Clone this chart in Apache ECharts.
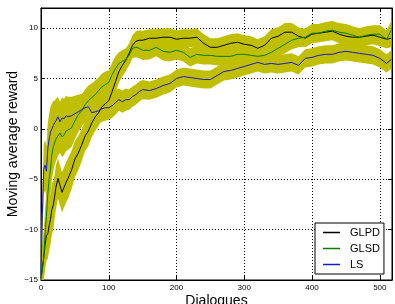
<!DOCTYPE html>
<html><head><meta charset="utf-8">
<script src="https://cdn.jsdelivr.net/npm/echarts@6/dist/echarts.min.js"></script>
<style>html,body{margin:0;padding:0;background:#fff}#c{width:395px;height:304px}</style>
</head><body><div id="c"></div>
<script>
const xs = [0,2,4,6,8,10,12,14,16,18,20,22,25,28,31,34,37,40,45,50,55,60,65,70,75,80,85,90,95,100,105,110,115,120,125,130,135,140,145,150,
 160,170,180,190,200,210,220,230,240,250,260,270,280,290,300,310,320,330,340,350,360,370,380,390,400,410,420,430,440,450,460,470,480,490,500,510,517];
const glpd = [-14.8,-13.8,-12.8,-11.5,-10.6,-10.4,-9.6,-9.0,-8.0,-7.6,-6.8,-5.8,-4.9,-5.6,-6.3,-5.8,-5.3,-4.9,-4.1,-3.0,-2.4,-1.6,-0.7,-0.2,0.6,1.2,1.6,2.2,2.5,2.8,3.7,4.7,5.7,6.3,6.8,7.5,8.3,8.7,8.8,8.8,
 9.0,9.0,9.1,9.1,8.9,9.0,9.0,9.1,8.5,8.1,8.1,8.3,8.5,8.6,8.4,8.3,8.0,8.3,9.0,9.2,9.6,9.6,9.2,9.0,9.4,9.5,9.6,9.7,9.4,9.2,9.1,9.1,9.2,9.3,9.1,8.9,9.0];
const glsd = [-15,-14,-12.8,-10.5,-8.7,-6.5,-5.0,-4.0,-2.6,-1.8,-1.4,-1.0,-0.7,-0.4,-0.8,-0.6,-0.2,-0.1,0.1,0.8,1.4,1.8,2.4,2.8,3.1,3.4,3.8,4.2,4.4,4.6,5.4,6.0,6.5,6.7,6.9,7.3,8.0,8.1,8.0,7.8,
 7.8,8.1,7.7,7.6,7.8,7.6,7.1,7.4,7.3,7.3,7.2,7.2,7.2,7.4,7.4,7.3,7.2,7.3,7.6,8.0,8.4,8.8,9.0,9.1,9.5,9.5,9.7,9.8,9.6,9.5,9.3,9.1,9.3,9.4,9.4,8.9,9.8];
const ls = [-14.5,-8.5,-4.0,-3.6,-4.2,-2.0,-1.0,-0.3,0.0,0.3,0.6,0.8,1.2,0.7,1.1,1.0,1.3,1.2,1.3,1.5,1.7,1.9,2.1,2.2,1.6,1.7,1.8,2.0,2.1,2.1,2.3,2.6,2.9,2.7,2.9,2.9,3.2,3.4,3.7,3.9,
 3.8,4.0,4.3,4.5,5.0,5.2,5.1,5.0,4.9,4.9,5.3,5.7,5.8,6.0,6.2,6.4,6.6,6.4,6.5,6.4,6.5,6.6,6.3,7.0,7.1,7.3,7.4,7.4,7.6,7.7,7.6,7.5,7.4,7.3,7.0,6.5,6.9];
// half-width of the yellow error band at each x
const bandHalf = [2.5,2.5,2.5,2.5,2.5,2.5,2.5,2.5,2.5,2.5,2.2,2.2,2.0,2.0,2.0,2.0,2.0,2.0,1.9,1.8,1.7,1.6,1.5,1.5,1.4,1.4,1.3,1.3,1.3,1.2,1.2,1.2,1.1,1.1,1.1,1.0,1.0,1.0,1.0,0.95,
 0.9,0.9,0.9,0.9,0.9,0.9,0.9,0.9,0.9,0.9,0.9,0.9,0.9,0.9,0.9,0.9,0.9,0.9,0.9,0.9,0.9,0.9,0.9,0.9,0.9,0.9,0.9,0.9,0.9,0.9,0.9,0.9,0.9,0.9,0.9,0.9,0.9];
const seriesNames = ['GLPD','GLSD','LS'];
const seriesColors = ['#000000','#008000','#1a1acc'];
const xTicks = [0,100,200,300,400,500];
const yTicks = [-15,-10,-5,0,5,10];

const values = [glpd, glsd, ls];
const FONT = 'Liberation Sans';
const BAND = '#bfbf00';
const Y_MIN = -15, Y_MAX = 12;
const minus = v => String(v).replace('-', '\u2212');
const clampY = v => Math.max(Y_MIN, Math.min(Y_MAX, v));

const series = [];
values.forEach((vals, k) => {
  series.push({
    name: 'band' + k, type: 'custom', silent: true, z: 1,
    data: xs.map((x, i) => [x, vals[i] - bandHalf[i], vals[i] + bandHalf[i]]),
    encode: { x: 0, y: [1, 2] },
    renderItem: (params, api) => {
      if (params.dataIndex !== 0) return null;
      const upper = xs.map((x, i) => api.coord([x, clampY(vals[i] + bandHalf[i])]));
      const lower = xs.map((x, i) => api.coord([x, clampY(vals[i] - bandHalf[i])])).reverse();
      return { type: 'polygon', shape: { points: upper.concat(lower) }, style: { fill: BAND } };
    }
  });
});
values.forEach((vals, k) => {
  series.push({
    name: seriesNames[k], type: 'line', symbol: 'none',
    data: xs.map((x, i) => [x, vals[i]]),
    lineStyle: { width: 1, color: seriesColors[k] }, itemStyle: { color: seriesColors[k] }, z: 3
  });
});

const chart = echarts.init(document.getElementById('c'), null, { renderer: 'canvas' });
chart.setOption({
  animation: false,
  textStyle: { fontFamily: FONT },
  grid: { left: 41, right: 3, top: 8, bottom: 24, outerBoundsMode: 'none', containLabel: false,
    show: true, borderColor: '#000', borderWidth: 1, backgroundColor: 'transparent' },
  legend: {
    data: seriesNames, orient: 'vertical', left: 315, top: 223,
    icon: 'rect', itemWidth: 17, itemHeight: 1.5, itemGap: 5,
    padding: [4, 4, 4, 8], borderColor: '#000', borderWidth: 1, backgroundColor: '#fff', borderRadius: 0,
    textStyle: { fontFamily: FONT, fontSize: 11, color: '#000', padding: [0, 0, 0, 5], lineHeight: 11 }
  },
  xAxis: [{
    type: 'value', min: 0, max: 518, interval: 100,
    name: 'Dialogues', nameLocation: 'middle', nameGap: 14, nameMoveOverlap: false,
    nameTextStyle: { fontFamily: FONT, fontSize: 14, color: '#000' },
    axisLine: { show: true, onZero: false, lineStyle: { color: '#000', width: 1 } },
    axisTick: { show: true, inside: true, length: 4, lineStyle: { color: '#000' } },
    axisLabel: { fontFamily: FONT, fontSize: 8, color: '#000', margin: 4, showMaxLabel: false,
      formatter: v => xTicks.includes(v) ? minus(v) : '' },
    splitLine: { show: true, lineStyle: { color: '#000', type: [1, 2], width: 1 } }
  }, {
    type: 'value', min: 0, max: 518, interval: 100, position: 'top',
    axisLine: { show: true, onZero: false, lineStyle: { color: '#000' } },
    axisTick: { show: true, inside: true, length: 4, lineStyle: { color: '#000' } },
    axisLabel: { show: false }, splitLine: { show: false }
  }],
  yAxis: [{
    type: 'value', min: Y_MIN, max: Y_MAX, interval: 5,
    name: 'Moving average reward', nameLocation: 'middle', nameGap: 21, nameRotate: 90, nameMoveOverlap: false,
    nameTextStyle: { fontFamily: FONT, fontSize: 14, color: '#000' },
    axisLine: { show: true, onZero: false, lineStyle: { color: '#000', width: 1 } },
    axisTick: { show: true, inside: true, length: 4, lineStyle: { color: '#000' } },
    axisLabel: { fontFamily: FONT, fontSize: 8, color: '#000', margin: 3, showMaxLabel: false,
      formatter: v => yTicks.includes(v) ? minus(v) : '' },
    splitLine: { show: true, lineStyle: { color: '#000', type: [1, 2], width: 1 } }
  }, {
    type: 'value', min: Y_MIN, max: Y_MAX, interval: 5, position: 'right',
    axisLine: { show: true, onZero: false, lineStyle: { color: '#000' } },
    axisTick: { show: true, inside: true, length: 4, lineStyle: { color: '#000' } },
    axisLabel: { show: false }, splitLine: { show: false }
  }],
  series: series
});
</script></body></html>
